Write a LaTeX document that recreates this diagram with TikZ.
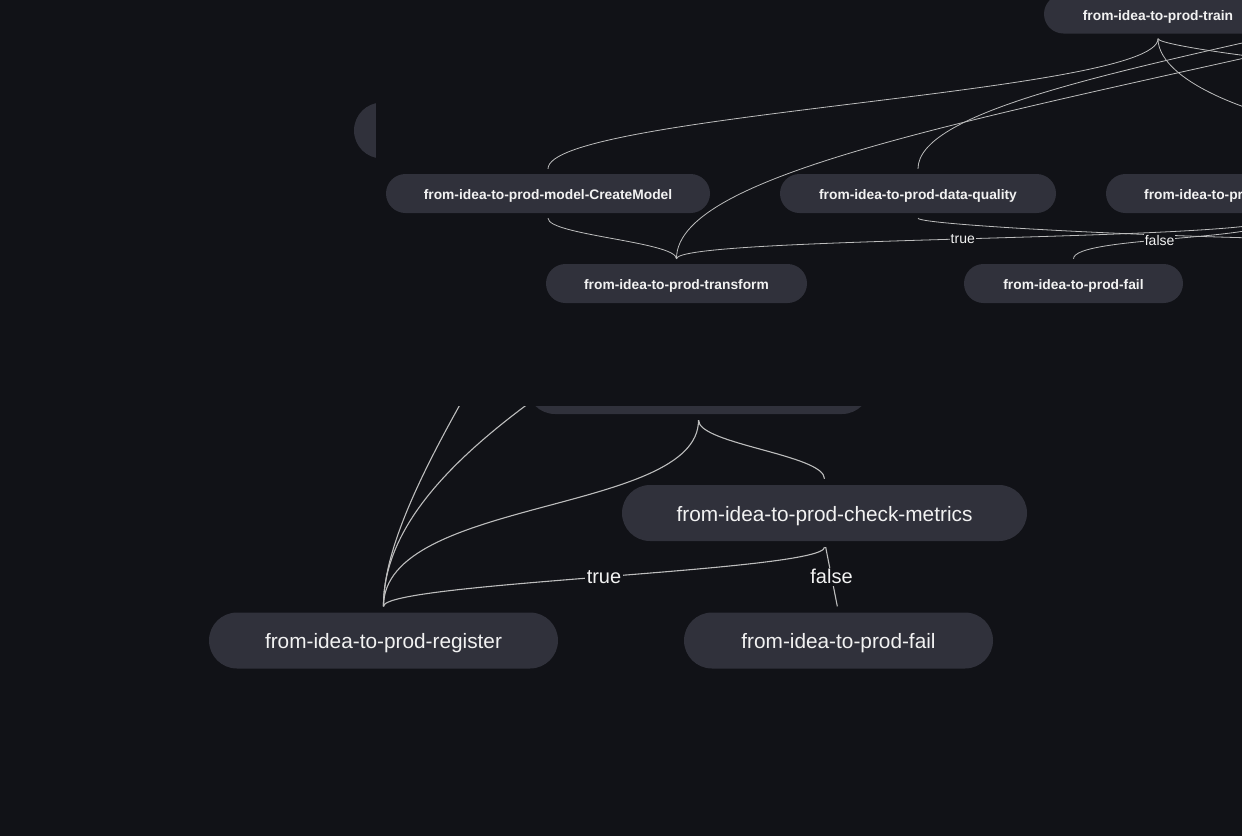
\documentclass[tikz,border=0pt]{standalone}
\usepackage{fontspec}
\setmainfont{Liberation Sans}
\definecolor{canvas}{HTML}{111217}
\definecolor{pillc}{HTML}{30313B}
\definecolor{linkc}{HTML}{BDBDBD}
\definecolor{inkc}{HTML}{F2F2F2}
\begin{document}
\begin{tikzpicture}[x=1pt,y=-1pt,
    smalltext/.style={text=inkc,inner sep=0pt,text height=12pt,text depth=0pt,font=\fontsize{13.8}{16}\selectfont\bfseries},
    smallpill/.style={smalltext,fill=pillc,rounded corners=19.5pt,minimum height=39pt},
    bigpill/.style={fill=pillc,rounded corners=28pt,minimum height=56pt,inner sep=0pt,text=inkc,text height=16pt,text depth=0pt,font=\fontsize{20.8}{24}\selectfont},
    smalllink/.style={draw=linkc,line width=0.8pt,shorten <=5pt,shorten >=5pt},
    biglink/.style={draw=linkc,line width=1.1pt,shorten <=6pt,shorten >=6pt},
    smalltag/.style={fill=canvas,text=inkc,inner sep=1pt,font=\fontsize{14}{16}\selectfont},
    bigtag/.style={fill=canvas,text=inkc,inner sep=1.5pt,font=\fontsize{20}{24}\selectfont}]
    \useasboundingbox (0,0) rectangle (1242,836);
    \clip (0,0) rectangle (1242,836);
    \fill[canvas] (0,0) rectangle (1242,836);

    \node[bigpill,minimum width=343pt] (prevbig) at (698.5,386) {};
    \node[bigpill,minimum width=340pt] (leftbig) at (524,130.5) {};
    \node[bigpill,minimum width=405pt] (checkbig) at (824.5,513) {from-idea-to-prod-check-metrics};
    \node[bigpill,minimum width=349pt] (registerbig) at (383.5,640.5) {from-idea-to-prod-register};
    \node[bigpill,minimum width=309pt] (failbig) at (838.5,640.5) {from-idea-to-prod-fail};
    \coordinate (hida) at (560,220);
    \coordinate (hidb) at (700,290);

    \draw[biglink] (prevbig.south) .. controls +(0,30) and +(0,-30) .. (checkbig.north);
    \draw[biglink] (prevbig.south) .. controls +(0,100) and +(0,-115) .. (registerbig.north);
    \draw[biglink,shorten <=0pt] (hida) .. controls (520,320) and (383,500) .. (registerbig.north);
    \draw[biglink,shorten <=0pt] (hidb) .. controls (560,380) and (383,480) .. (registerbig.north);
    \draw[biglink] (checkbig.south) .. controls +(0,30) and +(0,-30) .. node[bigtag] {true} (registerbig.north);
    \draw[biglink] (checkbig.south) -- node[bigtag] {false} (failbig.north);

    \fill[canvas] (376,0) rectangle (1242,406);

    \node[smallpill,minimum width=228pt] (train) at (1158,14) {from-idea-to-prod-train};
    \node[smallpill,minimum width=324pt] (cmodel) at (548,193.5) {from-idea-to-prod-model-CreateModel};
    \node[smallpill,minimum width=276pt] (dquality) at (918,193.5) {from-idea-to-prod-data-quality};
    \node[smallpill,minimum width=340pt] (evalsmall) at (1276,193.5) {};
    \node[smalltext,anchor=west] (evaltext) at (1144,193.5) {from-idea-to-pr};
    \node[smallpill,minimum width=261pt] (transform) at (676.5,283.5) {from-idea-to-prod-transform};
    \node[smallpill,minimum width=219pt] (failsmall) at (1073.5,283.5) {from-idea-to-prod-fail};
    \coordinate (qsrc) at (1300,30);
    \coordinate (tsrc) at (1400,23);
    \coordinate (trainouta) at (1400,70);
    \coordinate (trainoutb) at (1420,140);
    \coordinate (dqout) at (1400,240);

    \draw[smalllink] (train.south) .. controls +(0,60) and +(0,-60) .. (cmodel.north);
    \draw[smalllink] (dquality.north) .. controls +(0,-60) and (1100,75) .. (qsrc);
    \draw[smalllink] (tsrc) .. controls (1000,115) and (676,170) .. (transform.north);
    \draw[smalllink] (train.south) .. controls +(0,12) and +(-100,-5) .. (trainouta);
    \draw[smalllink] (train.south) .. controls +(0,50) and +(-150,-10) .. (trainoutb);
    \draw[smalllink] (cmodel.south) .. controls +(0,22) and +(0,-22) .. (transform.north);
    \draw[smalllink] (dquality.south) .. controls +(0,12) and +(-200,0) .. (dqout);
    \draw[smalllink] (evalsmall.south) .. controls +(0,28) and +(0,-28) .. node[smalltag,pos=0.515] {true} (transform.north);
    \draw[smalllink] (evalsmall.south) .. controls +(0,28) and +(0,-28) .. node[smalltag,pos=0.55] {false} (failsmall.north);
\end{tikzpicture}
\end{document}
